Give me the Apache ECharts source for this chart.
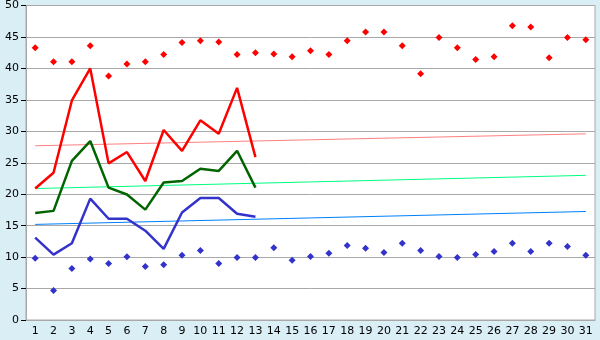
<!DOCTYPE html>
<html><head><meta charset="utf-8">
<script src="https://cdn.jsdelivr.net/npm/echarts@6/dist/echarts.min.js"></script>
<style>html,body{margin:0;padding:0;background:#daeef6;}#c{width:600px;height:340px;}</style>
</head><body><div id="c"></div>
<script>
const days = ['1','2','3','4','5','6','7','8','9','10','11','12','13','14','15','16','17','18','19','20','21','22','23','24','25','26','27','28','29','30','31'];
const yTicks = [0,5,10,15,20,25,30,35,40,45,50];
const maxPoints = [43.3,41.05,41.05,43.6,38.8,40.7,41.05,42.2,44.1,44.4,44.2,42.2,42.5,42.3,41.85,42.8,42.2,44.4,45.8,45.8,43.6,39.15,44.9,43.3,41.4,41.85,46.8,46.6,41.7,44.9,44.55];
const minPoints = [9.8,4.7,8.2,9.7,9.0,10.05,8.5,8.8,10.3,11.05,9.0,9.95,9.95,11.5,9.5,10.1,10.6,11.85,11.4,10.75,12.2,11.05,10.1,9.95,10.4,10.9,12.2,10.9,12.2,11.7,10.3];
const redLine = [20.9,23.4,34.9,40.0,24.9,26.7,22.1,30.2,26.9,31.75,29.6,36.9,25.9];
const greenLine = [17.0,17.35,25.3,28.45,21.05,19.95,17.55,21.85,22.1,24.05,23.7,26.9,21.05];
const blueLine = [13.1,10.4,12.2,19.3,16.1,16.1,14.2,11.3,17.1,19.4,19.4,16.9,16.4];
const trendRed = [['1',27.7],['31',29.6]];
const trendGreen = [['1',20.9],['31',23.0]];
const trendBlue = [['1',15.2],['31',17.25]];

const chart = echarts.init(document.getElementById('c'), null, {renderer:'canvas'});
const font = 'DejaVu Sans';
function line(name, data, color, width){
  return {name, type:'line', data, symbol:'none', silent:true, animation:false,
    lineStyle:{color, width}, z: 3};
}
function pts(name, data, color){
  return {name, type:'scatter', data, symbol:'diamond', symbolSize:7, animation:false,
    itemStyle:{color, opacity:1}, z:4};
}
chart.setOption({
  backgroundColor:'#daeef6',
  animation:false,
  grid:{left:26, right:5, top:5, bottom:20, show:true, backgroundColor:'#ffffff', borderColor:'#a8a8a8', borderWidth:1},
  xAxis:{type:'category', data:days, boundaryGap:true,
    axisLine:{lineStyle:{color:'#a8a8a8'}},
    axisTick:{alignWithLabel:true, length:5, lineStyle:{color:'#000'}},
    axisLabel:{color:'#000', fontFamily:font, fontSize:11, margin:6, interval:0},
    splitLine:{show:false}},
  yAxis:{type:'value', min:yTicks[0], max:yTicks[yTicks.length-1], interval:5,
    axisLine:{show:true, lineStyle:{color:'#a8a8a8'}},
    axisTick:{show:true, length:5, lineStyle:{color:'#000'}},
    axisLabel:{color:'#000', fontFamily:font, fontSize:11, margin:7},
    splitLine:{lineStyle:{color:'#a8a8a8', width:1}}},
  series:[
    line('trendRed', trendRed, '#ff8080', 1),
    line('trendGreen', trendGreen, '#00ff80', 1),
    line('trendBlue', trendBlue, '#0080ff', 1),
    line('red', redLine, '#ff0000', 2.5),
    line('green', greenLine, '#006400', 2.5),
    line('blue', blueLine, '#3333cc', 2.5),
    pts('max', maxPoints, '#ff0000'),
    pts('min', minPoints, '#3333cc')
  ]
});
</script></body></html>
